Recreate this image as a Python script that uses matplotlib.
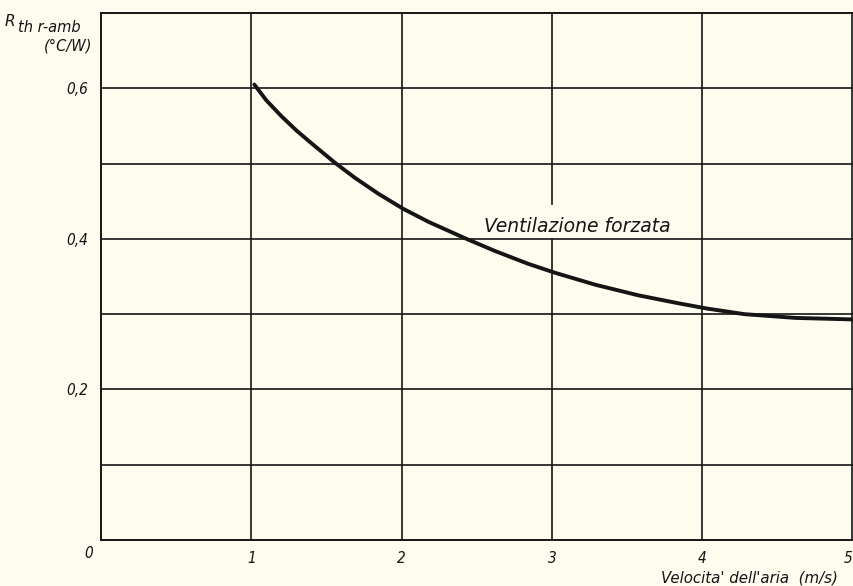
import matplotlib
matplotlib.use("Agg")
import matplotlib.pyplot as plt

# Air velocity (m/s) and thermal resistance R_th r-amb (°C/W), forced ventilation
velocity = [1.02, 1.1, 1.2, 1.3, 1.4, 1.557, 1.69, 1.845, 2.01, 2.18, 2.42, 2.62,
            2.84, 3.02, 3.29, 3.575, 3.84, 4.03, 4.28, 4.62, 5.0]
rth = [0.605, 0.584, 0.563, 0.544, 0.527, 0.501, 0.481, 0.460, 0.440, 0.4225, 0.401, 0.384,
       0.367, 0.355, 0.339, 0.325, 0.3145, 0.3075, 0.300, 0.2950, 0.2930]

x_ticks = [1, 2, 3, 4, 5]
x_tick_labels = ["1", "2", "3", "4", "5"]
y_ticks = [0.2, 0.4, 0.6]
y_tick_labels = ["0,2", "0,4", "0,6"]
curve_label = "Ventilazione forzata"
x_title = "Velocita' dell'aria  (m/s)"

paper = "#fdfcef"
ink = "#151515"
font = dict(family="DejaVu Sans", style="italic", color=ink)
narrow = dict(font, fontstretch="condensed")

W, H = 854, 586
fig = plt.figure(figsize=(W / 100, H / 100), dpi=100, facecolor=paper)
ax = fig.add_axes([101 / W, (H - 540) / H, (W - 101) / W, (540 - 13) / H])
ax.set_facecolor(paper)
ax.set_xlim(0, 5.01)
ax.set_ylim(0, 0.7)

# grid; the x=3 line is interrupted where the curve label sits
for gx in (1, 2, 4, 5):
    ax.axvline(gx, color=ink, lw=1.2, zorder=1)
ax.plot([3, 3], [0, 0.4], color=ink, lw=1.2, zorder=1)
ax.plot([3, 3], [0.446, 0.7], color=ink, lw=1.2, zorder=1)
for i in range(1, 7):
    ax.axhline(i / 10, color=ink, lw=1.2, zorder=1)

for side in ("left", "bottom", "top"):
    ax.spines[side].set_linewidth(1.4)
    ax.spines[side].set_color(ink)
ax.spines["right"].set_visible(False)

ax.plot(velocity, rth, color=ink, lw=2.8, solid_capstyle="round",
        solid_joinstyle="round", zorder=3)

ax.set_xticks(x_ticks)
ax.set_xticklabels(x_tick_labels, fontsize=11, **narrow)
ax.get_xticklabels()[-1].set_horizontalalignment("right")
ax.set_yticks(y_ticks)
ax.set_yticklabels(y_tick_labels, fontsize=11, **narrow)
ax.tick_params(length=0, pad=8)
ax.tick_params(axis="y", pad=9)

# origin label
fig.text(89 / W, 1 - 553 / H, "0", ha="center", va="center", fontsize=11, **narrow)

ax.text(2.55, 0.417, curve_label, fontsize=13.5, ha="left", va="center", zorder=4, **font)

fig.text(5 / W, 1 - 21 / H, "R", ha="left", va="center", fontsize=11, **font)
fig.text(18 / W, 1 - 28 / H, "th r-amb", ha="left", va="center", fontsize=10.5, **font)
fig.text(92 / W, 1 - 46 / H, "(°C/W)", ha="right", va="center", fontsize=10.5, **font)
fig.text(838 / W, 1 - 578 / H, x_title, ha="right", va="center", fontsize=10.8, **font)

fig.savefig("out.png", dpi=100, facecolor=paper)
